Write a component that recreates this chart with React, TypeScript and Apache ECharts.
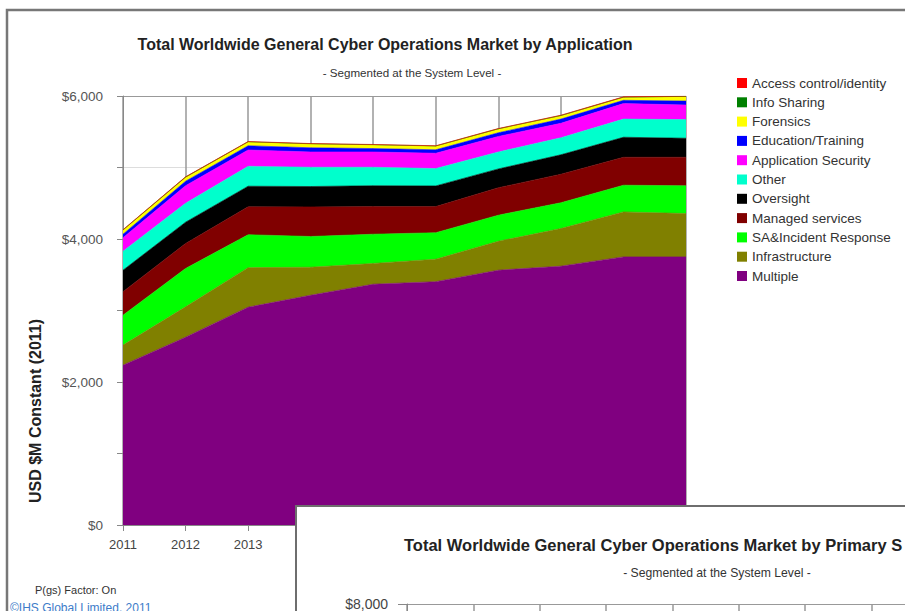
import React, { useEffect, useRef } from "react";
import * as echarts from "echarts";

const years = ["2011", "2012", "2013", "2014", "2015", "2016", "2017", "2018", "2019", "2020"];

const multiple = [2236, 2627, 3047, 3214, 3368, 3403, 3564, 3620, 3750, 3750];
const infrastructure = [280, 424, 552, 392, 290, 315, 405, 527, 629, 606];
const saIncident = [419, 537, 461, 429, 409, 370, 364, 360, 373, 389];
const managedServices = [328, 349, 391, 414, 387, 366, 384, 399, 391, 398];
const oversight = [301, 298, 287, 285, 291, 288, 263, 272, 280, 266];
const other = [265, 265, 279, 269, 258, 243, 237, 238, 254, 261];
const appSecurity = [189, 245, 228, 214, 214, 214, 217, 202, 217, 204];
const education = [49, 63, 59, 59, 48, 49, 52, 59, 46, 55];
const forensics = [55, 52, 51, 51, 49, 48, 50, 45, 38, 60];
const infoSharing = [5, 6, 5, 5, 5, 5, 6, 6, 6, 6];
const accessControl = [3, 3, 3, 3, 3, 3, 3, 3, 4, 4];

const yTicks = [0, 2000, 4000, 6000];
const visibleYearLabels = ["2011", "2012", "2013"];
const secondChartTopTick = 8000;

const layers = [
  { name: "Multiple", color: "#800080", data: multiple },
  { name: "Infrastructure", color: "#808000", data: infrastructure },
  { name: "SA&Incident Response", color: "#00FF00", data: saIncident },
  { name: "Managed services", color: "#800000", data: managedServices },
  { name: "Oversight", color: "#000000", data: oversight },
  { name: "Other", color: "#00FFCC", data: other },
  { name: "Application Security", color: "#FF00FF", data: appSecurity },
  { name: "Education/Training", color: "#0000FF", data: education },
  { name: "Forensics", color: "#FFFF00", data: forensics },
  { name: "Info Sharing", color: "#008000", data: infoSharing },
  { name: "Access control/identity", color: "#FF0000", data: accessControl },
];

const FONT = "'Liberation Sans', Arial, sans-serif";
const money = (v: number) => "$" + v.toLocaleString("en-US");

export default function App() {
  const ref = useRef<HTMLDivElement>(null);
  useEffect(() => {
    if (!ref.current) return;
    const chart = echarts.init(ref.current, null, { renderer: "svg" });
    const option: any = {
      animation: false,
      backgroundColor: "#ffffff",
      textStyle: { fontFamily: FONT },
      legend: {
        orient: "vertical",
        left: 737,
        top: 76,
        padding: 0,
        itemWidth: 10,
        itemHeight: 10,
        itemGap: 5.3,
        icon: "rect",
        textStyle: { fontSize: 13.5, color: "#333", fontFamily: FONT },
        data: layers.map((l) => l.name).reverse(),
      },
      grid: [
        { left: 123, top: 96, width: 563, height: 429, outerBoundsMode: "none" },
        { left: 407, top: 604, width: 597, height: 480, outerBoundsMode: "none" },
      ],
      xAxis: [
        {
          type: "category",
          gridIndex: 0,
          data: years,
          boundaryGap: false,
          axisLine: { lineStyle: { color: "#888", width: 1 } },
          axisTick: { show: true, length: 6, lineStyle: { color: "#888" } },
          axisLabel: {
            fontSize: 13,
            color: "#444",
            margin: 13,
            fontFamily: FONT,
            formatter: (v: string) => (visibleYearLabels.includes(v) ? v : ""),
          },
          splitLine: { show: true, lineStyle: { color: "#999", width: 1.5 } },
        },
        {
          type: "category",
          gridIndex: 1,
          data: years,
          boundaryGap: false,
          z: 12,
          axisLine: { show: false },
          axisTick: { show: false },
          axisLabel: { show: false },
          splitLine: { show: true, lineStyle: { color: "#999", width: 1.5 } },
        },
      ],
      yAxis: [
        {
          type: "value",
          gridIndex: 0,
          min: 0,
          max: 6000,
          interval: 2000,
          axisLine: { show: true, lineStyle: { color: "#888" } },
          axisTick: { show: true, length: 6, lineStyle: { color: "#888" } },
          minorTick: { show: true, splitNumber: 2, length: 6, lineStyle: { color: "#888" } },
          axisLabel: {
            fontSize: 13.5,
            color: "#555",
            margin: 20,
            fontFamily: FONT,
            formatter: (v: number) => (yTicks.includes(v) ? money(v) : ""),
          },
          splitLine: { show: true, lineStyle: { color: "#999", width: 1 } },
          minorSplitLine: { show: true, lineStyle: { color: "#ddd", width: 1 } },
        },
        {
          type: "value",
          gridIndex: 1,
          min: 0,
          max: 8000,
          interval: 2000,
          z: 12,
          axisLine: { show: true, lineStyle: { color: "#888" } },
          axisTick: { show: true, length: 9, lineStyle: { color: "#888" } },
          axisLabel: {
            fontSize: 14,
            color: "#444",
            margin: 19,
            fontFamily: FONT,
            formatter: (v: number) => (v === secondChartTopTick ? money(v) : ""),
          },
          splitLine: { show: true, lineStyle: { color: "#999", width: 1 } },
        },
      ],
      series: layers.map((l) => ({
        name: l.name,
        type: "line",
        stack: "total",
        xAxisIndex: 0,
        yAxisIndex: 0,
        data: l.data,
        color: l.color,
        showSymbol: false,
        symbol: "none",
        lineStyle: { width: 0.6, color: l.color },
        areaStyle: { color: l.color, opacity: 1 },
      })),
      graphic: [
        {
          type: "polyline",
          z: 1,
          shape: { points: [[7, 611], [7, 10], [905, 10]] },
          style: { stroke: "#777", lineWidth: 2.5, fill: null },
        },
        {
          type: "text",
          x: 385,
          y: 44,
          style: {
            text: "Total Worldwide General Cyber Operations Market by Application",
            font: `bold 16px ${FONT}`,
            fill: "#222",
            textAlign: "center",
            textVerticalAlign: "middle",
          },
        },
        {
          type: "text",
          x: 412,
          y: 72,
          style: {
            text: "- Segmented at the System Level -",
            font: `11.6px ${FONT}`,
            fill: "#333",
            textAlign: "center",
            textVerticalAlign: "middle",
          },
        },
        {
          type: "text",
          x: 35,
          y: 411,
          rotation: Math.PI / 2,
          style: {
            text: "USD $M Constant (2011)",
            font: `bold 16px ${FONT}`,
            fill: "#222",
            textAlign: "center",
            textVerticalAlign: "middle",
          },
        },
        {
          type: "text",
          x: 35,
          y: 590,
          style: {
            text: "P(gs) Factor: On",
            font: `11px ${FONT}`,
            fill: "#333",
            textAlign: "left",
            textVerticalAlign: "middle",
          },
        },
        {
          type: "text",
          x: 10,
          y: 608,
          style: {
            text: "©IHS Global Limited, 2011",
            font: `12px ${FONT}`,
            fill: "#3d7cc9",
            textAlign: "left",
            textVerticalAlign: "middle",
          },
        },
        {
          type: "rect",
          z: 10,
          shape: { x: 296, y: 506, width: 640, height: 140 },
          style: { fill: "#ffffff", stroke: "#6e6e6e", lineWidth: 2 },
        },
        {
          type: "text",
          z: 11,
          x: 404,
          y: 545,
          style: {
            text: "Total Worldwide General Cyber Operations Market by Primary S",
            font: `bold 16.5px ${FONT}`,
            fill: "#222",
            textAlign: "left",
            textVerticalAlign: "middle",
          },
        },
        {
          type: "text",
          z: 11,
          x: 717,
          y: 573,
          style: {
            text: "- Segmented at the System Level -",
            font: `12.2px ${FONT}`,
            fill: "#333",
            textAlign: "center",
            textVerticalAlign: "middle",
          },
        },
      ],
    };
    chart.setOption(option);
    return () => chart.dispose();
  }, []);
  return (
    <div
      ref={ref}
      style={{ position: "absolute", left: 0, top: 0, width: 905, height: 611, background: "#fff" }}
    />
  );
}
